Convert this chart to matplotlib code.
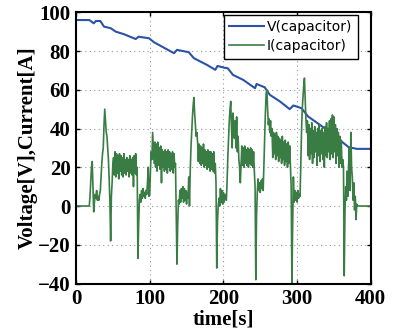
import numpy as np
import matplotlib
matplotlib.use("Agg")
import matplotlib.pyplot as plt

# capacitor voltage at its breakpoints
volt_t = [0, 18, 20, 24, 27, 33, 38, 47, 54, 65, 81, 85, 99, 106, 119, 133,
          137, 153, 160, 178, 189, 192, 201, 206, 213, 227, 243, 245, 256,
          263, 277, 290, 295, 306, 315, 331, 349, 363, 370, 381, 400]
volt_v = [96, 96, 95.5, 94.3, 95.5, 95.5, 92.6, 91.8, 90, 88.7, 86.2, 87.4,
          86.6, 84.5, 81.8, 78.9, 80.6, 79.4, 76.3, 72.8, 70.3, 72.3, 71.4,
          71.1, 67.7, 65.1, 60.8, 63, 61.3, 57.4, 53.9, 50, 51.9, 50.5, 46.2,
          41.9, 36.8, 32.5, 30.4, 29.5, 29.5]

# capacitor current, one sample per second (t = 0 .. 399)
current = [
    0, 0, 0, 0, 0, 0, 0, 0, 0, 0, 0, 0, 0, 0, 0, 0, 0, 0, 0, 5,
    12, 20, 23, 10, -3, 2, 6, 4, 8, 3, 5, 3, 6, 8, 15, 22, 27, 30, 42, 50,
    44, 38, 36, 30, 24, 14, 2, -18, 5, 12, 22, 25, 16, 28, 15, 27, 17, 26, 14, 27,
    18, 26, 16, 25, 15, 27, 17, 24, 16, 25, 18, 24, 15, 26, 17, 24, 16, 25, 10, 26,
    17, 27, 16, 20, -27, -10, 3, 6, 2, 8, 4, 9, 5, 7, 4, 8, 6, 12, 20, 5,
    6, 18, 28, 24, 38, 30, 22, 33, 20, 32, 18, 33, 21, 30, 19, 31, 12, 29, 20, 28,
    18, 29, 19, 28, 17, 29, 20, 28, 18, 27, 19, 28, 17, 27, 20, 22, -5, -30, -10, 3,
    1, 8, 2, 9, 4, 10, 2, 9, 3, 8, 1, 7, 4, 15, 0, 18, 30, 38, 46, 52,
    56, 48, 42, 36, 38, 33, 23, 32, 22, 31, 21, 30, 22, 32, 20, 29, 21, 28, 19, 29,
    20, 28, 18, 28, 19, 27, 18, 28, 17, 22, 12, -32, -8, 0, 4, 0, 9, 2, 8, 1,
    7, 2, 6, 5, 3, 12, 25, 35, 44, 50, 54, 40, 30, 48, 42, 35, 44, 30, 46, 28,
    36, 24, 20, 12, 22, 31, 21, 30, 20, 31, 22, 29, 21, 30, 20, 29, 22, 30, 21, 29,
    20, 28, 18, 10, -38, -5, 7, 14, 8, 12, 7, 13, 9, 14, 8, 21, 35, 48, 58, 60,
    50, 42, 45, 38, 44, 36, 40, 25, 38, 27, 37, 24, 38, 26, 36, 23, 35, 25, 34, 22,
    36, 24, 33, 21, 34, 23, 32, 20, 33, 22, 31, 20, 10, -40, -10, 15, 2, 8, 3, 7,
    2, 8, 4, 6, 5, 20, 38, 50, 56, 62, 66, 55, 45, 38, 44, 26, 42, 24, 40, 27,
    43, 22, 39, 25, 41, 28, 38, 21, 40, 26, 42, 23, 39, 27, 40, 24, 38, 20, 41, 26,
    43, 25, 40, 28, 44, 24, 45, 27, 47, 25, 46, 28, 42, 22, 40, 26, 38, 20, 36, 22,
    34, 20, 24, 20, -36, -3, 10, 3, 18, 5, 22, 30, 8, 38, 20, 15, 3, 12, -2, 5,
    -7, 1, 0, 0, 0, 0, 0, 0, 0, 0, 0, 0, 0, 0, 0, 0, 0, 0, 0, 0,
]
cur_t = np.arange(len(current))

x_ticks = [0, 100, 200, 300, 400]
y_ticks = [-40, -20, 0, 20, 40, 60, 80, 100]

fig = plt.figure(figsize=(3.93, 3.35), dpi=100)
ax = fig.add_axes([0.1934, 0.1537, 0.75, 0.8096])

ax.plot(volt_t, volt_v, color="#2a52a6", lw=1.5, label="V(capacitor)")
ax.plot(cur_t, current, color="#3a7d44", lw=1.2, label="I(capacitor)")

ax.set_xlim(0, 400)
ax.set_ylim(-40, 100)
ax.set_xticks(x_ticks)
ax.set_yticks(y_ticks)
ax.grid(True, linestyle=(0, (1, 3)), color="#999999", lw=0.8)
ax.tick_params(direction="in", top=True, right=True, length=3, width=1,
               labelsize=15, pad=4)
for lab in ax.get_xticklabels() + ax.get_yticklabels():
    lab.set_fontfamily("Liberation Serif")
    lab.set_fontweight("bold")
for s in ax.spines.values():
    s.set_linewidth(1.5)

ax.set_xlabel("time[s]", fontsize=15, fontweight="bold",
              family="Liberation Serif", labelpad=0)
ax.set_ylabel("Voltage[V],Current[A]", fontsize=15, fontweight="bold",
              family="Liberation Serif", labelpad=0)

leg = ax.legend(loc="upper right", bbox_to_anchor=(0.956, 0.991),
                fontsize=10, frameon=True, fancybox=False,
                edgecolor="black", framealpha=1, borderpad=0.4,
                handlelength=2.5, handletextpad=0.2, labelspacing=0.35,
                borderaxespad=0)
leg.get_frame().set_linewidth(1.0)

fig.savefig("out.png", dpi=100)
